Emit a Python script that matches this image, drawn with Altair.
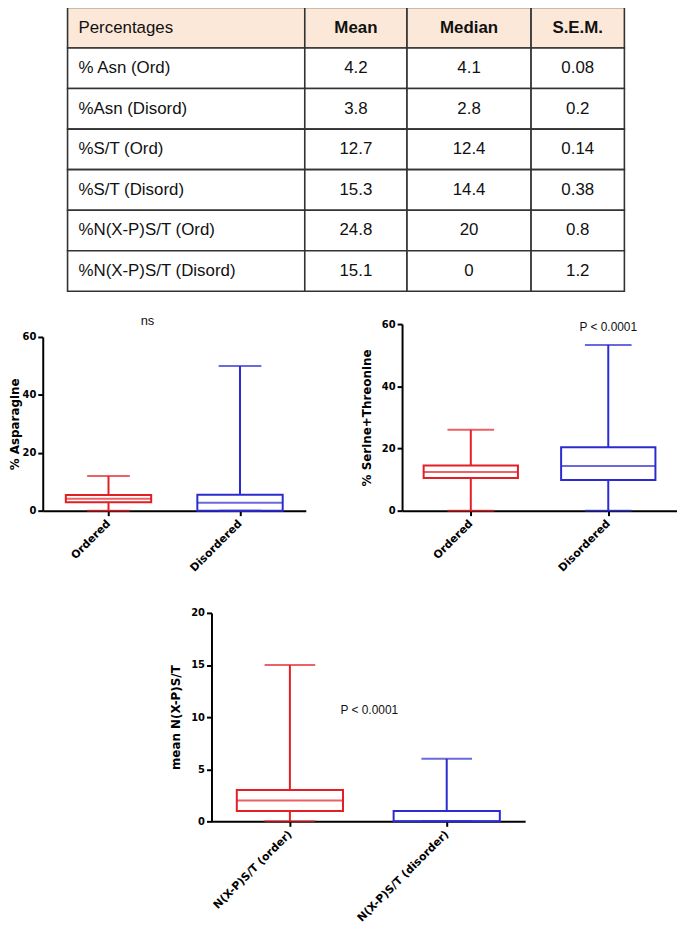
import altair as alt
import pandas as pd

# ---------------- table data ----------------
header = ["Percentages", "Mean", "Median", "S.E.M."]
row_labels = ["% Asn (Ord)", "%Asn (Disord)", "%S/T (Ord)", "%S/T (Disord)",
              "%N(X-P)S/T (Ord)", "%N(X-P)S/T (Disord)"]
means = ["4.2", "3.8", "12.7", "15.3", "24.8", "15.1"]
medians = ["4.1", "2.8", "12.4", "14.4", "20", "0"]
sems = ["0.08", "0.2", "0.14", "0.38", "0.8", "1.2"]

# ---------------- box plot data ----------------
groups_a = ["Ordered", "Disordered"]
asn_min = [0, 0]
asn_q1 = [2.9, 0]
asn_med = [4.1, 2.7]
asn_q3 = [5.4, 5.5]
asn_max = [12, 50]

st_min = [0, 0]
st_q1 = [10.5, 9.9]
st_med = [12.4, 14.4]
st_q3 = [14.5, 20.4]
st_max = [26, 53.3]

groups_n = ["N(X-P)S/T (order)", "N(X-P)S/T (disorder)"]
n_min = [0, 0]
n_q1 = [1, 0]
n_med = [2, 0]
n_q3 = [3, 1]
n_max = [15, 6]

ann_asn = "ns"
ann_st = ["P < 0.0001", "Disordered", 59.0]
ann_n = ["P < 0.0001", "N(X-P)S/T (order)", 10.7]

RED = "#e31e24"
BLUE1 = "#2b2bcf"
BLUE2 = "#1f1f9f"

# ---------------- table chart ----------------
col_w = [239, 103, 125, 94]
edges = [0]
for w in col_w:
    edges.append(edges[-1] + w)

cells = []
all_rows = [header] + [[row_labels[i], means[i], medians[i], sems[i]] for i in range(len(row_labels))]
for r, row in enumerate(all_rows):
    for c, txt in enumerate(row):
        cells.append({
            "r0": r, "r1": r + 1, "rc": r + 0.5,
            "x0": edges[c], "x1": edges[c + 1], "xc": (edges[c] + edges[c + 1]) / 2,
            "txt": txt, "head": "h" if r == 0 else "b", "col": c,
        })
cells = pd.DataFrame(cells)

tw = edges[-1]
LEFT_GAP = 25  # blank room left of the table
xs = alt.Scale(domain=[-LEFT_GAP, tw], nice=False, zero=False)
ys = alt.Scale(domain=[0, len(all_rows)], nice=False, reverse=True, zero=False)

tbase = alt.Chart(cells)
rects = tbase.mark_rect(stroke="#333333", strokeWidth=1.6).encode(
    x=alt.X("x0:Q", scale=xs, axis=None), x2="x1:Q",
    y=alt.Y("r0:Q", scale=ys, axis=None), y2="r1:Q",
    fill=alt.Fill("head:N", scale=alt.Scale(domain=["h", "b"], range=["#fce8d8", "#ffffff"]), legend=None),
)
txt_first = tbase.transform_filter("datum.col == 0").mark_text(
    align="left", baseline="middle", dx=11, font="Liberation Sans", fontSize=17, color="#111111"
).encode(x=alt.X("x0:Q", scale=xs, axis=None), y=alt.Y("rc:Q", scale=ys, axis=None), text="txt:N")
txt_head = tbase.transform_filter("datum.col > 0 && datum.r0 == 0").mark_text(
    align="center", baseline="middle", font="Liberation Sans", fontSize=17, fontWeight="bold", color="#111111"
).encode(x=alt.X("xc:Q", scale=xs, axis=None), y=alt.Y("rc:Q", scale=ys, axis=None), text="txt:N")
txt_body = tbase.transform_filter("datum.col > 0 && datum.r0 > 0").mark_text(
    align="center", baseline="middle", font="Liberation Sans", fontSize=17, color="#111111"
).encode(x=alt.X("xc:Q", scale=xs, axis=None), y=alt.Y("rc:Q", scale=ys, axis=None), text="txt:N")
table = alt.layer(rects, txt_first, txt_head, txt_body).properties(width=tw + LEFT_GAP, height=286)


def spacer(w, h=4):
    return alt.Chart(pd.DataFrame({"v": [0]})).mark_point(size=0, opacity=0, strokeWidth=0).encode(
        x=alt.X("v:Q", axis=None, scale=alt.Scale(domain=[-1, 1])),
        y=alt.Y("v:Q", axis=None, scale=alt.Scale(domain=[-1, 1])),
    ).properties(width=w, height=h)


def boxplot(groups, mins, q1s, meds, q3s, maxs, colors, ytitle, ydomain, yvalues,
            box_w, cap_w, width, height, title_pad, ann=None, ann_dx=0):
    df = pd.DataFrame({"g": groups, "lo": mins, "q1": q1s, "med": meds, "q3": q3s, "hi": maxs})
    xenc = alt.X("g:N", sort=groups, scale=alt.Scale(type="point", padding=0.5),
                 axis=alt.Axis(title=None, labelAngle=-45, labelAlign="right",
                               labelBaseline="middle", labelPadding=6))
    yscale = alt.Scale(domain=ydomain, nice=False, zero=True)
    cscale = alt.Scale(domain=groups, range=colors)
    base = alt.Chart(df)
    whisk = base.mark_rule(strokeWidth=2).encode(
        x=xenc,
        y=alt.Y("lo:Q", scale=yscale, axis=alt.Axis(values=yvalues, title=ytitle, titlePadding=title_pad)),
        y2="hi:Q",
        color=alt.Color("g:N", scale=cscale, legend=None),
    )
    box = base.mark_bar(size=box_w, fill="white", strokeWidth=2).encode(
        x=xenc, y=alt.Y("q1:Q", scale=yscale), y2="q3:Q",
        stroke=alt.Stroke("g:N", scale=cscale, legend=None),
    )
    med = base.mark_tick(size=box_w, thickness=2).encode(
        x=xenc, y=alt.Y("med:Q", scale=yscale), color=alt.Color("g:N", scale=cscale, legend=None)
    )
    caps = base.transform_fold(["lo", "hi"], as_=["k", "val"]).mark_tick(size=cap_w, thickness=2).encode(
        x=xenc, y=alt.Y("val:Q", scale=yscale), color=alt.Color("g:N", scale=cscale, legend=None)
    )
    layers = [whisk, box, med, caps]
    if ann is not None:
        adf = pd.DataFrame({"t": [ann[0]], "g": [ann[1]], "y": [ann[2]]})
        layers.append(alt.Chart(adf).mark_text(font="Liberation Sans", fontSize=12, color="#111111",
                                               dx=ann_dx, baseline="middle").encode(
            x=xenc, y=alt.Y("y:Q", scale=yscale), text="t:N"))
    return alt.layer(*layers).properties(width=width, height=height)


P1_W = 265
p1 = boxplot(groups_a, asn_min, asn_q1, asn_med, asn_q3, asn_max, [RED, BLUE1],
             "% Asparagine", [0, 60], [0, 20, 40, 60], 86, 43, P1_W, 175, 1)
ns_chart = alt.Chart(pd.DataFrame({"t": [ann_asn]})).mark_text(
    font="Liberation Sans", fontSize=13, color="#111111", dx=-27, dy=-7, baseline="middle"
).encode(text="t:N").properties(width=P1_W, height=8)

p2 = boxplot(groups_a, st_min, st_q1, st_med, st_q3, st_max, [RED, BLUE2],
             "% Serine+Threonine", [0, 60], [0, 20, 40, 60], 95, 47, 277, 188, 8, ann=ann_st)
p3 = boxplot(groups_n, n_min, n_q1, n_med, n_q3, n_max, [RED, BLUE2],
             "mean N(X-P)S/T", [0, 20], [0, 5, 10, 15, 20], 107, 51, 316, 210, 8,
             ann=ann_n, ann_dx=80)

row2 = alt.hconcat(alt.vconcat(ns_chart, p1, spacing=0), p2, spacing=55)
row3 = alt.hconcat(spacer(108), p3, spacing=20)

chart = alt.vconcat(table, alt.vconcat(row2, row3, spacing=35), spacing=23).properties(
    padding={"left": 0, "top": -5, "right": 0, "bottom": 0}
).configure_view(stroke=None).configure_axis(
    grid=False, domainColor="black", domainWidth=2, tickColor="black", tickWidth=2, tickSize=5,
    labelFont="DejaVu Sans", labelFontWeight="bold", labelFontSize=10, labelColor="black",
    titleFont="DejaVu Sans", titleFontWeight="bold", titleFontSize=12, titleColor="black",
).configure_axisX(labelFontSize=11)

chart.save("out.html", embed_options={"renderer": "svg", "actions": False})
